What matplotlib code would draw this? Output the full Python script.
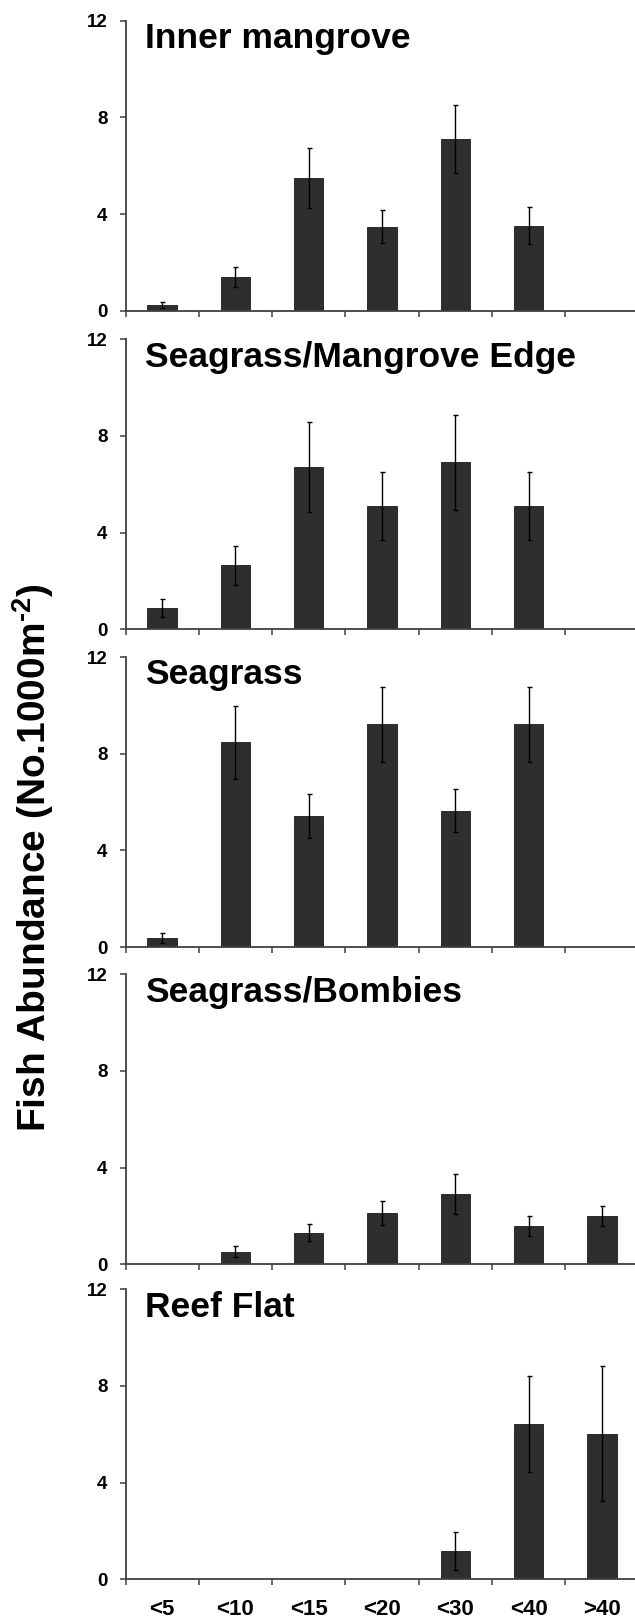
import numpy as np
import matplotlib
matplotlib.use("Agg")
import matplotlib.pyplot as plt

plt.rcParams['font.family'] = ['Liberation Sans', 'DejaVu Sans']
plt.rcParams['font.weight'] = 'bold'
plt.rcParams['mathtext.fontset'] = 'custom'
plt.rcParams['mathtext.rm'] = 'Liberation Sans:bold'
plt.rcParams['mathtext.bf'] = 'Liberation Sans:bold'
plt.rcParams['mathtext.default'] = 'bf'

sizes = ['<5', '<10', '<15', '<20', '<30', '<40', '>40']

habitats = ['Inner mangrove', 'Seagrass/Mangrove Edge', 'Seagrass',
            'Seagrass/Bombies', 'Reef Flat']

inner_mean = [0.25, 1.38, 5.48, 3.48, 7.1, 3.52, 0]
inner_se = [0.12, 0.42, 1.25, 0.67, 1.4, 0.76, 0]

edge_mean = [0.87, 2.65, 6.7, 5.11, 6.91, 5.11, 0]
edge_se = [0.38, 0.8, 1.86, 1.4, 1.96, 1.4, 0]

seagrass_mean = [0.38, 8.47, 5.42, 9.21, 5.64, 9.21, 0]
seagrass_se = [0.2, 1.5, 0.9, 1.55, 0.9, 1.55, 0]

bombies_mean = [0, 0.52, 1.31, 2.12, 2.92, 1.57, 1.99]
bombies_se = [0, 0.22, 0.35, 0.51, 0.82, 0.41, 0.42]

reef_mean = [0, 0, 0, 0, 1.18, 6.43, 6.02]
reef_se = [0, 0, 0, 0, 0.79, 2.0, 2.8]

means = [inner_mean, edge_mean, seagrass_mean, bombies_mean, reef_mean]
ses = [inner_se, edge_se, seagrass_se, bombies_se, reef_se]

W, H = 635, 1619
fig = plt.figure(figsize=(W / 100, H / 100), dpi=100)

# panel tops in pixels, all panels same height
tops = [20.7, 339.3, 657, 974.3, 1289.3]
ph = 290
left = 125.5
aw = 513

x = np.arange(len(sizes))
for i in range(5):
    ax = fig.add_axes([left / W, 1 - (tops[i] + ph) / H, aw / W, ph / H])
    m = np.array(means[i])
    s = np.array(ses[i])
    ax.bar(x, m, width=0.4, color='#2e2e2e', edgecolor='#1c1c1c', linewidth=0.6, zorder=2)
    k = m > 0
    ax.errorbar(x[k], m[k], yerr=s[k], fmt='none', ecolor='black',
                elinewidth=1.0, capsize=1.8, capthick=1.0, zorder=3)
    ax.set_xlim(-0.5, 6.5)
    ax.set_ylim(0, 12)
    ax.set_yticks([0, 4, 8, 12])
    ax.set_yticklabels(['0', '4', '8', '12'], fontsize=13.5, fontweight='bold')
    ax.set_xticks(np.arange(-0.5, 7, 1))
    ax.set_xticklabels([])
    ax.tick_params(axis='both', direction='out', length=4, width=1.1, color='#404040')
    ax.tick_params(axis='y', pad=9)
    for sp in ['top', 'right']:
        ax.spines[sp].set_visible(False)
    for sp in ['left', 'bottom']:
        ax.spines[sp].set_color('#404040')
        ax.spines[sp].set_linewidth(1.3)
    ax.text(0.038, 0.906, habitats[i], transform=ax.transAxes, fontsize=25.5,
            fontweight='bold', ha='left', va='baseline')
    if i == 4:
        ax.set_xticks(x, minor=True)
        ax.set_xticklabels(sizes, minor=True, fontsize=16, fontweight='bold')
        ax.tick_params(axis='x', which='minor', length=0, pad=14)

fig.text(33 / W, 1 - 858 / H, r'Fish Abundance (No.1000m$^{\text{-2}}$)', rotation=90,
         fontsize=28, fontweight='bold', ha='center', va='center')

fig.savefig('out.png', dpi=100)
